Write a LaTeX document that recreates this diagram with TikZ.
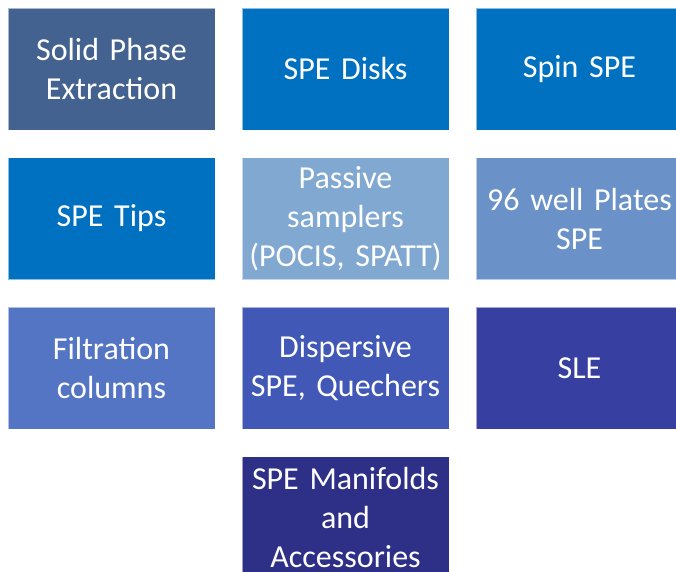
\documentclass[tikz,border=0pt]{standalone}
\usepackage{fontspec}
\setmainfont{Carlito}
\usetikzlibrary{positioning}
\definecolor{spesolid}{RGB}{68,98,143}
\definecolor{speblue}{RGB}{0,112,192}
\definecolor{spepassive}{RGB}{128,168,208}
\definecolor{speplate}{RGB}{106,146,200}
\definecolor{spefilter}{RGB}{84,116,196}
\definecolor{spedisp}{RGB}{65,88,182}
\definecolor{spesle}{RGB}{55,64,160}
\definecolor{spemani}{RGB}{46,48,136}

\begin{document}
\begin{tikzpicture}[
  x=1pt, y=1pt,
  node distance=27.5pt and 27pt,
  box/.style={draw=white, draw opacity=0.55, line width=0.8pt, fill=speblue,
              minimum width=207pt, minimum height=122pt, inner sep=0pt,
              outer sep=0pt, text width=205pt, align=center, text=white,
              font=\fontsize{32}{39}\selectfont}
]
  \useasboundingbox (0,0) rectangle (676,-571);
  \clip (0,0) rectangle (676,-571);

  \node[box, fill=spesolid, anchor=north west] (solid) at (8,-8)
    {Solid Phase\\Extraction};
  \node[box, right=of solid] (disks) {SPE Disks};
  \node[box, right=of disks] (spin) {Spin SPE};

  \node[box, below=of solid] (tips) {SPE Tips};
  \node[box, fill=spepassive, right=of tips] (passive)
    {Passive\\samplers\\(POCIS, SPATT)};
  \node[box, fill=speplate, right=of passive] (plates)
    {96 well Plates\\SPE};

  \node[box, fill=spefilter, below=of tips] (filter)
    {Filtration\\columns};
  \node[box, fill=spedisp, right=of filter] (disp)
    {Dispersive\\SPE, Quechers};
  \node[box, fill=spesle, right=of disp] (sle) {SLE};

  \node[box, fill=spemani, below=of disp] (mani)
    {SPE Manifolds\\and\\Accessories};
\end{tikzpicture}
\end{document}
